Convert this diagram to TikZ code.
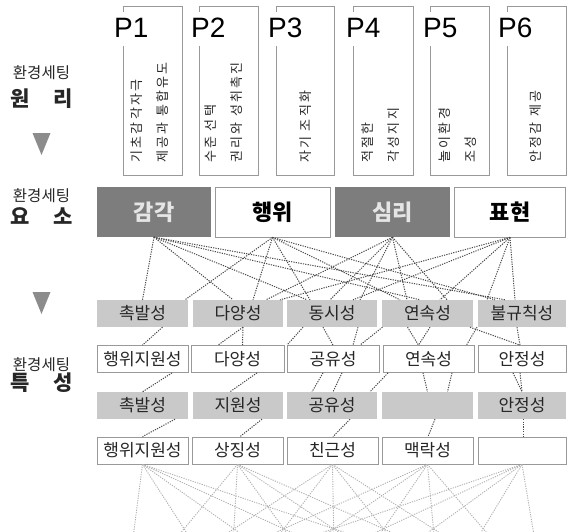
\documentclass[tikz,border=0pt]{standalone}
\usepackage{fontspec}
\setmainfont{Noto Sans CJK KR}
\newfontfamily\pfont{Liberation Sans}
\definecolor{boxgray}{HTML}{999999}
\definecolor{darkfill}{HTML}{7D7D7D}
\definecolor{lightfill}{HTML}{C9C9C9}
\definecolor{arrowgray}{HTML}{8C8C8C}
\definecolor{linegray}{HTML}{484848}
\definecolor{faintgray}{HTML}{B0B0B0}
\begin{document}
\begin{tikzpicture}[x=1pt,y=-1pt,
  pbox/.style={draw=boxgray, line width=0.8pt},
  plabel/.style={font=\pfont\fontsize{28}{28}\selectfont, fill=white, inner sep=1pt,
     text height=25pt, text depth=7pt, anchor=base west},
  ptext/.style={rotate=90, anchor=west, align=left, inner sep=0pt, text=black!85,
     font=\fontsize{13}{26}\selectfont\addfontfeature{LetterSpace=18}},
  sidesmall/.style={font=\fontsize{15.5}{15.5}\selectfont, inner sep=0pt, text=black!85},
  sidebig/.style={font=\bfseries\fontsize{21}{21}\selectfont, inner sep=0pt, text=black!85},
  elemdark/.style={fill=darkfill, text=black!10, minimum height=50pt, inner sep=0pt,
     font=\bfseries\fontsize{22}{22}\selectfont},
  elemlight/.style={draw=boxgray, line width=0.8pt, fill=white, text=black, minimum height=50pt, inner sep=0pt,
     font=\bfseries\fontsize{22}{22}\selectfont},
  rowgray/.style={fill=lightfill, text=black!85, minimum height=27pt, inner sep=0pt,
     font=\fontsize{17}{17}\selectfont},
  rowwhite/.style={draw=boxgray, line width=0.8pt, fill=white, text=black!85, minimum height=27pt, inner sep=0pt,
     font=\fontsize{17}{17}\selectfont},
  dl/.style={draw=linegray, line width=1pt, dash pattern=on 1.2pt off 1.2pt},
  fl/.style={draw=faintgray, line width=0.9pt, dash pattern=on 1.2pt off 1.2pt}
]
\useasboundingbox (0,0) rectangle (567,532);

% ---------- principle boxes ----------
\draw[pbox] (123,6) rectangle (182,175);
\draw[pbox] (199,6) rectangle (258,175);
\draw[pbox] (276,6) rectangle (334,175);
\draw[pbox] (353,6) rectangle (413,175);
\draw[pbox] (430,6) rectangle (489,175);
\draw[pbox] (507,6) rectangle (566,175);
\node[plabel] (p1) at (113,38) {P1};
\node[plabel] (p2) at (190,38) {P2};
\node[plabel] (p3) at (267,38) {P3};
\node[plabel] (p4) at (345,38) {P4};
\node[plabel] (p5) at (422,38) {P5};
\node[plabel] (p6) at (497,38) {P6};
\node[ptext] (t1) at (150,163) {기초감각자극\\제공과 통합유도};
\node[ptext] (t2) at (224,163) {수준 선택\\권리와 성취촉진};
\node[ptext] (t3) at (306,163) {자기 조직화};
\node[ptext] (t4) at (381,163) {적절한\\각성지지};
\node[ptext] (t5) at (458,163) {놀이환경\\조성};
\node[ptext] (t6) at (536,163) {안정감 제공};

% ---------- side labels ----------
\node[sidesmall] (l1a) at (41.5,73) {환경세팅};
\node[sidebig] (l1b) at (41.5,99) {\makebox[62pt]{원\hfill 리}};
\fill[arrowgray] (32.5,133) -- (50.5,133) -- (41.5,155) -- cycle;
\node[sidesmall] (l2a) at (41.5,196) {환경세팅};
\node[sidebig] (l2b) at (41.5,216) {\makebox[62pt]{요\hfill 소}};
\fill[arrowgray] (32.5,292) -- (50.5,292) -- (41.5,314) -- cycle;
\node[sidesmall] (l3a) at (41.5,365) {환경세팅};
\node[sidebig] (l3b) at (41.5,383) {\makebox[62pt]{특\hfill 성}};

% ---------- element row ----------
\node[elemdark, minimum width=114pt] (gak) at (154,212) {감각};
\node[elemlight, minimum width=115pt] (hae) at (272.5,212) {행위};
\node[elemdark, minimum width=115pt] (sim) at (392.5,212) {심리};
\node[elemlight, minimum width=111pt] (pyo) at (510,212) {표현};

% ---------- characteristic rows ----------
\node[rowgray, minimum width=91pt] (r1a) at (142.5,313.5) {촉발성};
\node[rowgray, minimum width=90pt] (r1b) at (238,313.5) {다양성};
\node[rowgray, minimum width=90pt] (r1c) at (332,313.5) {동시성};
\node[rowgray, minimum width=91pt] (r1d) at (427.5,313.5) {연속성};
\node[rowgray, minimum width=88pt] (r1e) at (522,313.5) {불규칙성};

\node[rowwhite, minimum width=91pt] (r2a) at (142.5,359) {행위지원성};
\node[rowwhite, minimum width=93pt] (r2b) at (237.5,359) {다양성};
\node[rowwhite, minimum width=92pt] (r2c) at (333,359) {공유성};
\node[rowwhite, minimum width=91pt] (r2d) at (428.5,359) {연속성};
\node[rowwhite, minimum width=88pt] (r2e) at (522,359) {안정성};

\node[rowgray, minimum width=91pt] (r3a) at (142.5,405.5) {촉발성};
\node[rowgray, minimum width=90pt] (r3b) at (238,405.5) {지원성};
\node[rowgray, minimum width=90pt] (r3c) at (332,405.5) {공유성};
\node[rowgray, minimum width=91pt] (r3d) at (427.5,405.5) {};
\node[rowgray, minimum width=88pt] (r3e) at (522,405.5) {안정성};

\node[rowwhite, minimum width=91pt] (r4a) at (142.5,450.5) {행위지원성};
\node[rowwhite, minimum width=91pt] (r4b) at (237.5,450.5) {상징성};
\node[rowwhite, minimum width=91pt] (r4c) at (332.5,450.5) {친근성};
\node[rowwhite, minimum width=91pt] (r4d) at (427.5,450.5) {맥락성};
\node[rowwhite, minimum width=88pt] (r4e) at (522,450.5) {};

% ---------- element -> row 1 ----------
\draw[dl] (gak.south) -- (r1a.north);
\draw[dl] (gak.south) -- ([xshift=-5pt]r1b.north);
\draw[dl] (gak.south) -- ([xshift=-25pt]r1c.north);
\draw[dl] (gak.south) -- ([xshift=-7.5pt]r1d.north);
\draw[dl] (gak.south) -- ([xshift=-17pt]r1e.north);
\draw[dl] (hae.south) -- ([xshift=42.5pt]r1a.north);
\draw[dl] (hae.south) -- ([xshift=15pt]r1b.north);
\draw[dl] (hae.south) -- ([xshift=-22pt]r1c.north);
\draw[dl] (hae.south) -- ([xshift=-27.5pt]r1d.north);
\draw[dl] (hae.south) -- ([xshift=-27pt]r1e.north);
\draw[dl] (sim.south) -- ([xshift=28pt]r1b.north);
\draw[dl] (sim.south) -- ([xshift=-2pt]r1c.north);
\draw[dl] (sim.south) -- ([xshift=28pt]r1c.north);
\draw[dl] (sim.south) -- ([xshift=-20.5pt]r1d.north);
\draw[dl] (sim.south) -- ([xshift=19.5pt]r1d.north);
\draw[dl] (pyo.south) -- ([xshift=42pt]r1b.north);
\draw[dl] (pyo.south) -- ([xshift=21pt]r1c.north);
\draw[dl] (pyo.south) -- ([xshift=12.5pt]r1d.north);
\draw[dl] (pyo.south) -- ([xshift=-35pt]r1e.north);
\draw[dl] (pyo.south) -- ([xshift=-7pt]r1e.north);

% ---------- row 1 -> row 2 ----------
\draw[dl] ([xshift=20pt]r1a.south) -- (r2a.north);
\draw[dl] ([xshift=5pt]r1b.south) -- ([xshift=-19.5pt]r2b.north);
\draw[dl] ([xshift=5pt]r1b.south) -- ([xshift=5pt]r2b.north);
\draw[dl] ([xshift=-29pt]r1c.south) -- ([xshift=-46pt]r2c.north);
\draw[dl] ([xshift=-9pt]r1c.south) -- (r2c.north);
\draw[dl] ([xshift=26pt]r1c.south) -- ([xshift=20pt]r2c.north);
\draw[dl] ([xshift=-45pt]r1d.south) -- ([xshift=27pt]r2c.north);
\draw[dl] ([xshift=-20pt]r1d.south) -- ([xshift=-10pt]r2d.north);
\draw[dl] ([xshift=2.5pt]r1d.south) -- ([xshift=-10pt]r2d.north);
\draw[dl] ([xshift=-45pt]r1e.south) -- ([xshift=38pt]r2d.north);
\draw[dl] ([xshift=-52pt]r1e.south) -- ([xshift=-2pt]r2e.north);
\draw[dl] ([xshift=-5pt]r1e.south) -- ([xshift=-2pt]r2e.north);

% ---------- row 2 -> row 3 ----------
\draw[dl] ([xshift=29.5pt]r2a.south) -- (r3a.north);
\draw[dl] ([xshift=19.5pt]r2b.south) -- ([xshift=-8pt]r3b.north);
\draw[dl] ([xshift=-10pt]r2c.south) -- ([xshift=-20pt]r3c.north);
\draw[dl] ([xshift=9pt]r2c.south) -- ([xshift=1pt]r3c.north);
\draw[dl] ([xshift=-40.5pt]r2d.south) -- ([xshift=38pt]r3c.north);
\draw[dl] ([xshift=-5.5pt]r2d.south) -- (r3d.north);
\draw[dl] ([xshift=23.5pt]r2d.south) -- ([xshift=20pt]r3d.north);
\draw[dl] ([xshift=-9pt]r2e.south) -- (r3e.north);
\draw[dl] ([xshift=-2pt]r2e.south) -- (r3e.north);

% ---------- row 3 -> row 4 ----------
\draw[dl] ([xshift=32.5pt]r3a.south) -- (r4a.north);
\draw[dl] ([xshift=24pt]r3b.south) -- ([xshift=2.5pt]r4b.north);
\draw[dl] ([xshift=18pt]r3c.south) -- ([xshift=0.5pt]r4c.north);
\draw[dl] ([xshift=7.5pt]r3d.south) -- ([xshift=0.5pt]r4d.north);
\draw[dl] ([xshift=1pt]r3e.south) -- ([xshift=1pt]r4e.north);

% ---------- faint lines below ----------
\coordinate (q1) at (125,600);
\coordinate (q2) at (230,600);
\coordinate (q3) at (335,600);
\coordinate (q4) at (440,600);
\coordinate (q5) at (545,600);
\begin{scope}
\clip (0,464) rectangle (567,532);
\foreach \s in {r4a,r4b,r4c,r4d,r4e}{
  \foreach \t in {q1,q2,q3,q4,q5}{
    \draw[fl] (\s.south) -- (\t);
  }
}
\end{scope}
\end{tikzpicture}
\end{document}
